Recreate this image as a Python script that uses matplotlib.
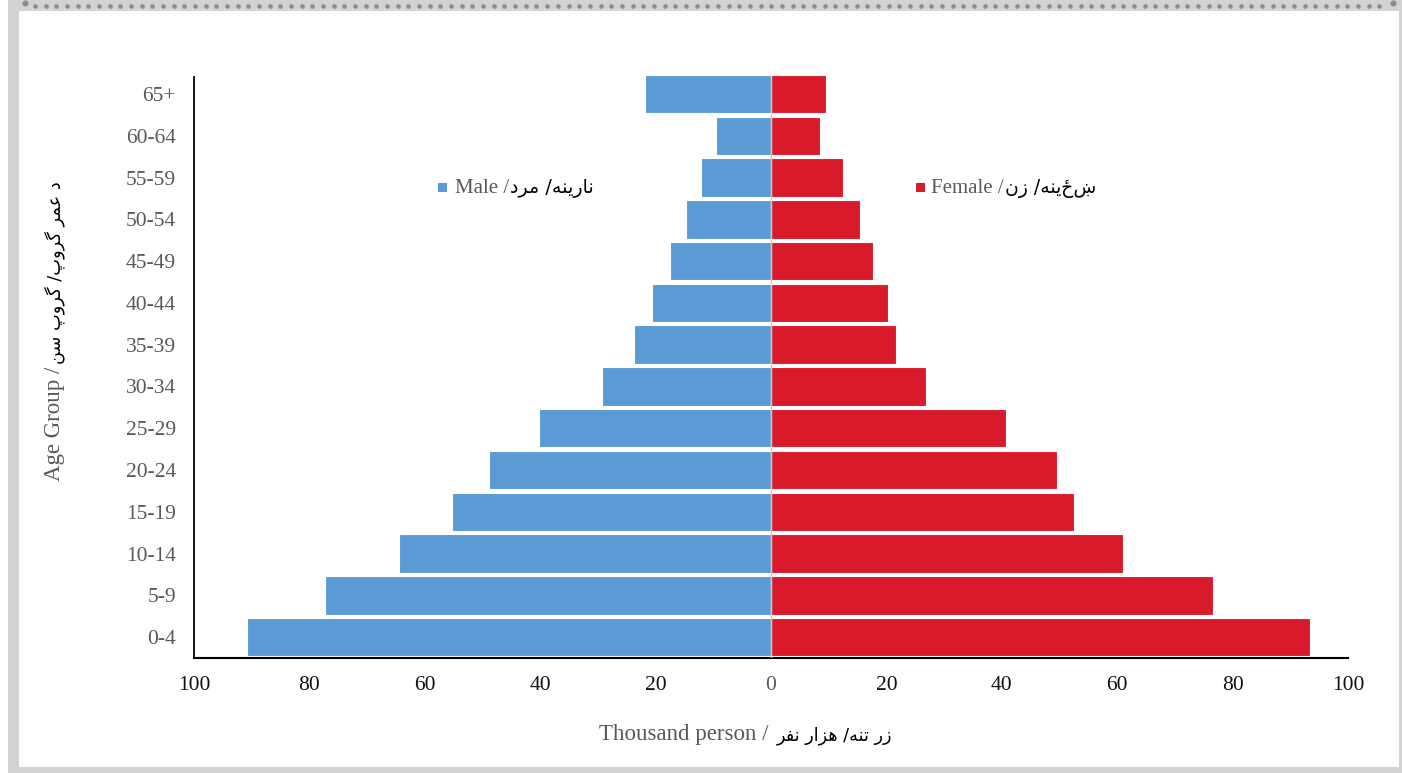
import matplotlib
matplotlib.use("Agg")
import matplotlib.pyplot as plt
from matplotlib.patches import Rectangle
from matplotlib.lines import Line2D
import numpy as np

# ---------------- data ----------------
age_groups = ['0-4', '5-9', '10-14', '15-19', '20-24', '25-29', '30-34',
              '35-39', '40-44', '45-49', '50-54', '55-59', '60-64', '65+']
male = [90.8, 77.3, 64.5, 55.3, 48.9, 40.2, 29.3, 23.7, 20.6, 17.5, 14.7, 12.1, 9.5, 21.8]
female = [93.4, 76.6, 61.0, 52.5, 49.6, 40.7, 26.9, 21.7, 20.3, 17.7, 15.4, 12.5, 8.5, 9.5]
x_ticks = [-100, -80, -60, -40, -20, 0, 20, 40, 60, 80, 100]

male_en, male_ps = "Male /", "نارینه/ مرد"
female_en, female_ps = "Female /", "ښځینه/ زن"
xlabel_en, xlabel_ps = "Thousand person / ", "زر تنه/ هزار نفر"
ylabel_en, ylabel_ps = "Age Group /", "د عمر گروپ/ گروپ سن"

# ---------------- simple Arabic-script shaping (visual order) ----------------
FORMS = {
    'ا': ('\uFE8D', '\uFE8E', None, None),
    'ب': ('\uFE8F', '\uFE90', '\uFE91', '\uFE92'),
    'پ': ('\uFB56', '\uFB57', '\uFB58', '\uFB59'),
    'ت': ('\uFE95', '\uFE96', '\uFE97', '\uFE98'),
    'د': ('\uFEA9', '\uFEAA', None, None),
    'ر': ('\uFEAD', '\uFEAE', None, None),
    'ز': ('\uFEAF', '\uFEB0', None, None),
    'س': ('\uFEB1', '\uFEB2', '\uFEB3', '\uFEB4'),
    'ع': ('\uFEC9', '\uFECA', '\uFECB', '\uFECC'),
    'ف': ('\uFED1', '\uFED2', '\uFED3', '\uFED4'),
    'گ': ('\uFB92', '\uFB93', '\uFB94', '\uFB95'),
    'م': ('\uFEE1', '\uFEE2', '\uFEE3', '\uFEE4'),
    'ن': ('\uFEE5', '\uFEE6', '\uFEE7', '\uFEE8'),
    'ه': ('\uFEE9', '\uFEEA', '\uFEEB', '\uFEEC'),
    'و': ('\uFEED', '\uFEEE', None, None),
    'ی': ('\uFBFC', '\uFBFD', '\uFBFE', '\uFBFF'),
}


def shape(s):
    out = []
    for i, c in enumerate(s):
        if c not in FORMS:
            out.append(c)
            continue
        f = FORMS[c]
        prev = s[i - 1] if i > 0 else ''
        nxt = s[i + 1] if i + 1 < len(s) else ''
        jp = prev in FORMS and FORMS[prev][2] is not None
        jn = f[2] is not None and nxt in FORMS
        if jp and jn:
            out.append(f[3])
        elif jn:
            out.append(f[2])
        elif jp:
            out.append(f[1])
        else:
            out.append(f[0])
    return ''.join(reversed(out))


# ---------------- figure ----------------
W, H = 1402, 773
fig = plt.figure(figsize=(W / 100, H / 100), dpi=100)
fig.patch.set_facecolor('white')


def fx(px):
    return px / W


def fy(py):
    return 1 - py / H


# frame
fig.add_artist(Rectangle((fx(8), 0), fx(W - 8), 1, transform=fig.transFigure,
                         facecolor='#d2d3d5', edgecolor='none', zorder=-10))
fig.add_artist(Rectangle((fx(19), fy(767)), fx(1399 - 19), fy(11) - fy(767),
                         transform=fig.transFigure, facecolor='white',
                         edgecolor='none', zorder=-9))
dot_x = np.arange(35, 1388, 10.67)
fig.add_artist(Line2D(fx(dot_x), [fy(5.5)] * len(dot_x), ls='none', marker='o',
                      ms=3.3, color='#8c8c8c', mec='none', transform=fig.transFigure))
fig.add_artist(Line2D([fx(25), fx(1393)], [fy(2.5), fy(2.5)], ls='none', marker='o',
                      ms=4.4, color='#8c8c8c', mec='none', transform=fig.transFigure))

# axes
ax_left, ax_right, ax_top, ax_bot = 194, 1348, 77.3, 658
ax = fig.add_axes([fx(ax_left), fy(ax_bot), fx(ax_right - ax_left), fy(ax_top) - fy(ax_bot)])
ax.set_facecolor('none')

y = np.arange(len(age_groups))
male_color = '#5b9bd5'
female_color = '#d91a2a'
ax.barh(y, [-v for v in male], height=0.92, color=male_color, edgecolor='white',
        linewidth=0.8, clip_on=False, zorder=2)
ax.barh(y, female, height=0.92, color=female_color, edgecolor='white',
        linewidth=0.8, clip_on=False, zorder=2)
ax.axvline(0, color='#c9c9c9', lw=1.0, zorder=3)

ax.set_xlim(-100, 100)
ax.set_ylim(-0.5, 13.4)

serif = 'Liberation Serif'
gray = '#595959'

ax.set_xticks(x_ticks)
ax.set_xticklabels([str(abs(t)) for t in x_ticks], fontfamily=serif, fontsize=15.5)
for lbl, t in zip(ax.get_xticklabels(), x_ticks):
    lbl.set_color(gray if t == 0 else '#111111')
ax.set_yticks(y)
ax.set_yticklabels(age_groups, fontfamily=serif, fontsize=15.5, color=gray)
ax.tick_params(axis='both', length=0)
ax.tick_params(axis='x', pad=13)
ax.tick_params(axis='y', pad=13)

for s in ['top', 'right']:
    ax.spines[s].set_visible(False)
ax.spines['left'].set_linewidth(1.3)
ax.spines['bottom'].set_linewidth(1.5)
ax.spines['left'].set_color('black')
ax.spines['bottom'].set_color('black')

# ---------------- composite texts ----------------
arab_font = 'DejaVu Sans'


def composite(x_px, y_px, en, ps, size_en, size_ps, rotation=0, gap=3):
    t1 = fig.text(fx(x_px), fy(y_px), en, fontfamily=serif, fontsize=size_en,
                  color=gray, ha='left', va='baseline', rotation=rotation,
                  rotation_mode='anchor')
    fig.canvas.draw()
    bb = t1.get_window_extent()
    if rotation == 0:
        fig.text((bb.x1 + gap) / W, fy(y_px), shape(ps), fontfamily=arab_font,
                 fontsize=size_ps, color='black', ha='left', va='baseline',
                 rotation=0, rotation_mode='anchor')
    else:
        fig.text(fx(x_px), (bb.y1 + gap) / H, shape(ps), fontfamily=arab_font,
                 fontsize=size_ps, color='black', ha='left', va='baseline',
                 rotation=rotation, rotation_mode='anchor')


# legend
fig.add_artist(Rectangle((fx(438), fy(192)), fx(9), fy(183) - fy(192),
                         transform=fig.transFigure, facecolor=male_color, edgecolor='none'))
composite(455, 193, male_en, male_ps, 15, 13.8, gap=1)
fig.add_artist(Rectangle((fx(916), fy(192)), fx(9), fy(183) - fy(192),
                         transform=fig.transFigure, facecolor=female_color, edgecolor='none'))
composite(931, 193, female_en, female_ps, 15, 13.5, gap=1)

# axis labels
composite(599, 740, xlabel_en, xlabel_ps, 16.5, 12.7)
composite(60, 481, ylabel_en, ylabel_ps, 16.5, 12.8, rotation=90)

fig.savefig('out.png', dpi=100)
